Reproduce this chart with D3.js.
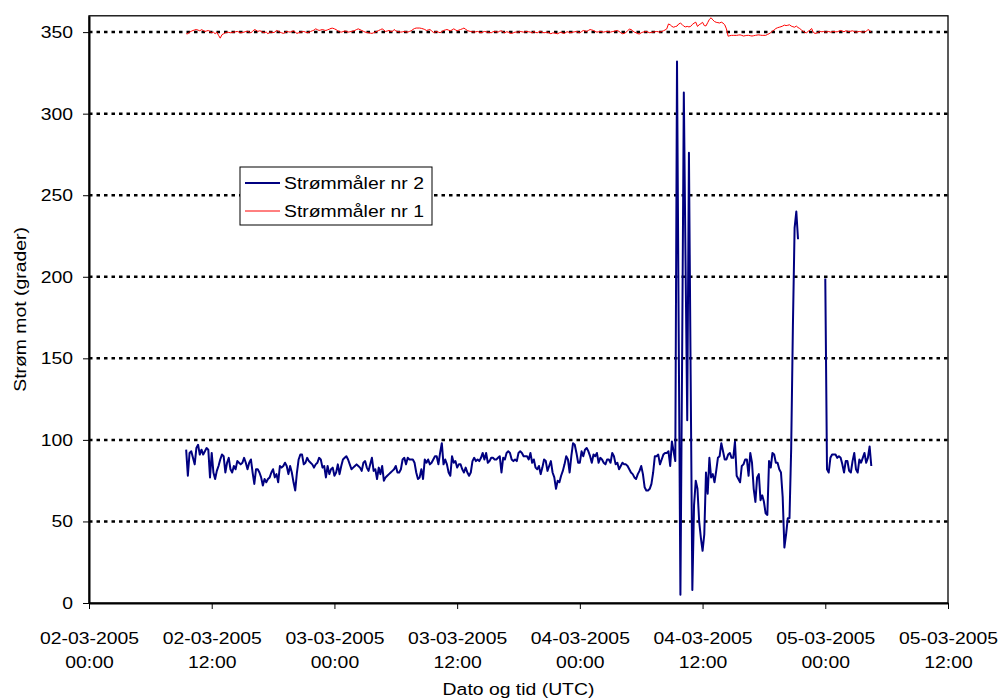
<!DOCTYPE html>
<html>
<head>
<meta charset="utf-8">
<script src="https://cdn.jsdelivr.net/npm/d3@7"></script>
<style>
body { margin: 0; background: #fff; }
text { font-family: "Liberation Sans", Arial, sans-serif; font-size: 17px; fill: #000; }
</style>
</head>
<body>
<div class="container"></div>
<script>
//Width and height
var w = 999;
var h = 700;

// measurement series, 10 minute samples starting 02-03-2005 09:30 UTC
var startTime = Date.UTC(2005, 2, 2, 9, 30);
var stepMinutes = 10;

var seriesNames = ["Strømmåler nr 2", "Strømmåler nr 1"];

var maaler2 = [
  94,78,92,93,89,85,95,97,91,94,
  91,93,95,94,77,92,80,76,81,84,
  88,91,90,80,86,89,82,80,84,82,
  87,86,85,86,89,86,82,86,88,80,
  73,82,82,80,77,72,76,74,76,77,
  80,82,77,79,74,84,83,84,86,84,
  79,84,80,74,69,80,88,91,91,85,
  86,89,87,86,85,83,85,86,89,88,
  83,84,77,84,79,82,83,78,80,85,
  79,84,88,89,90,88,85,82,83,84,
  85,84,
  83,81,86,87,83,81,85,89,
  81,82,76,83,79,84,75,77,78,79,
  80,81,82,84,80,80,82,88,89,85,
  89,88,88,88,86,80,76,77,82,76,
  88,86,88,85,86,88,90,90,85,92,
  98,85,88,85,80,78,90,86,87,83,
  85,85,82,80,83,80,78,80,87,89,
  87,88,87,89,92,88,92,86,87,89,
  89,88,88,89,90,80,89,88,92,93,
  92,88,87,88,87,92,93,92,90,90,
  90,88,92,86,88,
  83,82,84,79,83,
  88,87,81,84,87,80,77,70,75,74,
  78,81,85,90,88,80,90,98,97,92,
  86,86,93,90,94,95,93,90,86,91,
  90,92,86,89,88,86,85,88,88,86,
  92,90,85,86,82,84,86,85,85,84,
  82,80,79,77,76,79,81,84,79,71,
  69,69,70,73,80,90,90,91,85,88,
  91,92,92,93,84,99,93,87,
  332,165,5,150,313,210,112,276,140,8,
  60,75,70,50,40,32,42,80,67,89,
  77,79,74,81,89,90,98,93,88,88,
  91,92,89,89,99,78,76,74,84,85,
  88,88,78,92,86,70,62,77,79,63,
  66,62,55,54,87,83,92,91,86,86,
  82,80,65,34,42,52,52,95,170,230,
  240,223,
  null,null,null,null,null,null,null,null,null,null,null,null,null,null,null,
  199,82,80,89,91,91,91,89,90,89,
  85,80,87,87,81,80,87,92,82,80,
  88,86,89,92,86,89,96,84
];

var maaler1 = [
  349,349,350,350.5,351,351.3,351.6,351.2,350.8,351.5,
  351,350.4,350.7,351,350.3,349.6,350,349,350,348,
  346.3,348.4,349,349.6,350,349.8,349.6,349.8,350,350.2,
  350.4,350,349.6,349.8,350,350.4,350.5,350,349.6,350.5,
  351.5,351.2,350.4,350.8,350.6,349.8,349.8,350,349,350,
  350,349.7,350,351,350.6,350,349.6,349.2,349.8,350.4,
  350.2,350,350.4,350.8,350,349.2,349.6,350,350.2,350.4,
  350,349.6,350,350.4,350.8,351.2,352,351.5,351,351.3,
  351.6,351.2,351,351.4,351.8,352.3,352.4,352,351.5,350.8,
  350.2,350,350.3,350.7,350.5,350,350.2,350.4,350.7,351,
  351.6,352,351.5,351,350.5,350,349.8,349.6,349.4,349.2,
  349.6,350,350.5,351,351.5,352,351.3,350.4,350.7,351,
  350.5,350.4,351.6,350.8,350.4,350.2,350,350.2,350.4,350.2,
  350,350.4,350.8,351.6,352.2,352.5,352.5,352.5,352.3,352,
  351.6,351,351.3,351.6,350.8,349.8,350,350.4,350,349.6,
  350.3,351,351.3,351.6,351.2,350.8,351.3,352,351.4,350.8,
  351.2,351.6,352,352.5,351.7,351,350.6,350.4,350.2,350,
  350.2,350.4,350,349.6,350,350.4,350.2,350,349.8,349.6,
  350.2,350.4,350.2,350,350.6,350.8,350,349.6,350.2,350,
  349.4,349.2,349.6,350,350,350,350.4,350.2,350,350.2,
  350.4,350.2,350,349.5,350.4,349.8,349.6,350.2,350.4,349.8,
  349.6,349.8,350,349.5,349,349.5,349.5,349.2,349,349.6,
  350,349.4,349.2,350,350.2,349.6,349.8,350,350.2,350.4,
  350,349.6,350.3,351,350.7,350.4,351,351.6,351.3,351,
  350.4,350,350.2,350.4,350.2,350,350.3,350.5,350.2,350,
  350.3,350.5,350.8,351,350.4,349.6,349,349.2,349.8,350.8,
  351.8,351.6,350.8,350,349.6,349,348.9,349.6,350,350.2,
  350.4,350,349.6,349.8,350,350.2,350.4,350.2,350,350.4,
  350.8,351.3,352,355,354.5,353.5,353,353.4,353.7,355,
  355.5,354.7,353.6,353.2,353.5,353.2,353.5,354.7,355.5,356.1,
  353.5,354.5,355.2,356,354,353.8,355.8,357.8,358.8,357.5,
  356.5,356,355.8,355.6,356.1,355.5,354.5,352,347.5,347.8,
  348,348,348,348,348.2,348.3,348,347.6,347.8,348,
  348,347.8,347.6,347.8,348,348.2,348.3,348.1,348,348,
  348,348.5,349,349.7,350.6,351.3,352.2,352.7,353,353.3,
  353.7,354.3,354,354.2,354.5,353.7,353.3,353,353.7,352.8,
  352.2,351.3,350.5,349.8,349.6,350.5,351.2,352.2,349.8,349.2,
  349.4,350,350.4,350.2,350.4,350,350.2,350.4,350,350.2,
  350.4,350.2,350.2,350.6,351,350.6,350.2,350.8,350.6,350.2,
  350.6,350.8,350.4,350,350.2,350.4,350.2,350,350.2,350.4,
  351.6,351,350
];

var yTickValues = [0, 50, 100, 150, 200, 250, 300, 350];
var yMax = 360;
var xStart = Date.UTC(2005, 2, 2, 0, 0);
var xEnd = Date.UTC(2005, 2, 5, 12, 0);

// plot area
var plotLeft = 89, plotRight = 948, plotTop = 15.8, plotBottom = 603;
var sx = 1.14; // text in the picture is a bit wider than normal Arial

var x = d3.scaleUtc()
    .domain([new Date(xStart), new Date(xEnd)])
    .range([plotLeft, plotRight]);

var y = d3.scaleLinear()
    .domain([0, yMax])
    .range([plotBottom, plotTop]);

var svg = d3.select(".container")
    .append("svg")
    .attr("width", w)
    .attr("height", h);

function toPoints(values) {
    return values.map(function(v, i) {
        return { t: new Date(startTime + i * stepMinutes * 60000), v: v };
    });
}

//dotted gridlines
svg.selectAll(".grid")
    .data(yTickValues.filter(function(d) { return d > 0; }))
    .enter()
    .append("line")
    .attr("class", "grid")
    .attr("x1", plotLeft)
    .attr("x2", plotRight)
    .attr("y1", function(d) { return y(d); })
    .attr("y2", function(d) { return y(d); })
    .attr("stroke", "#000")
    .attr("stroke-width", 2.5)
    .attr("stroke-dasharray", "3.5,4");

//plot border
svg.append("rect")
    .attr("x", plotLeft)
    .attr("y", plotTop)
    .attr("width", plotRight - plotLeft)
    .attr("height", plotBottom - plotTop)
    .attr("fill", "none")
    .attr("stroke", "#000")
    .attr("stroke-width", 1.3);

var line = d3.line()
    .defined(function(d) { return d.v != null; })
    .x(function(d) { return x(d.t); })
    .y(function(d) { return y(d.v); });

svg.append("path")
    .datum(toPoints(maaler2))
    .attr("fill", "none")
    .attr("stroke", "#000080")
    .attr("stroke-width", 2)
    .attr("stroke-linejoin", "round")
    .attr("d", line);

svg.append("path")
    .datum(toPoints(maaler1))
    .attr("fill", "none")
    .attr("stroke", "#ff0000")
    .attr("stroke-width", 1)
    .attr("d", line);

//y axis
var yAxis = svg.append("g")
    .attr("transform", "translate(" + plotLeft + ",0)")
    .call(d3.axisLeft(y).tickValues(yTickValues).tickSize(6).tickSizeOuter(0).tickPadding(8));
yAxis.attr("font-family", null).attr("font-size", null);
yAxis.select(".domain").attr("stroke-width", 2);
yAxis.selectAll(".tick text")
    .attr("transform", "scale(" + sx + ",1)");

//x axis
var xAxis = svg.append("g")
    .attr("transform", "translate(0," + plotBottom + ")")
    .call(d3.axisBottom(x).ticks(d3.utcHour.every(12)).tickSize(6).tickSizeOuter(0).tickFormat(""));
xAxis.attr("font-family", null).attr("font-size", null);
xAxis.select(".domain").attr("stroke-width", 2);

var fmtDate = d3.utcFormat("%d-%m-%Y");
var fmtTime = d3.utcFormat("%H:%M");
xAxis.selectAll(".tick").each(function(d) {
    var g = d3.select(this);
    g.select("text").remove();
    g.append("text").attr("text-anchor", "middle")
        .attr("transform", "translate(0,41) scale(" + sx + ",1)")
        .text(fmtDate(d));
    g.append("text").attr("text-anchor", "middle")
        .attr("transform", "translate(0,65) scale(" + sx + ",1)")
        .text(fmtTime(d));
});

//axis titles
svg.append("text")
    .attr("text-anchor", "middle")
    .attr("transform", "translate(" + ((plotLeft + plotRight) / 2) + ",695) scale(" + sx + ",1)")
    .text("Dato og tid (UTC)");

svg.append("text")
    .attr("text-anchor", "middle")
    .attr("transform", "translate(26," + ((plotTop + plotBottom) / 2) + ") rotate(-90) scale(" + sx + ",1)")
    .text("Strøm mot (grader)");

//legend
var legend = svg.append("g")
    .attr("class", "key")
    .attr("transform", "translate(240,167)");

legend.append("rect")
    .attr("width", 192)
    .attr("height", 58)
    .attr("fill", "#fff")
    .attr("stroke", "#000")
    .attr("stroke-width", 1);

var legendColors = ["#000080", "#ff0000"];
var legendWidths = [2, 1];
seriesNames.forEach(function(name, i) {
    var ly = 16 + i * 28;
    legend.append("line")
        .attr("x1", 5).attr("x2", 40)
        .attr("y1", ly).attr("y2", ly)
        .attr("stroke", legendColors[i])
        .attr("stroke-width", legendWidths[i]);
    legend.append("text")
        .attr("transform", "translate(44," + (ly + 6) + ") scale(" + sx + ",1)")
        .text(name);
});
</script>
</body>
</html>
